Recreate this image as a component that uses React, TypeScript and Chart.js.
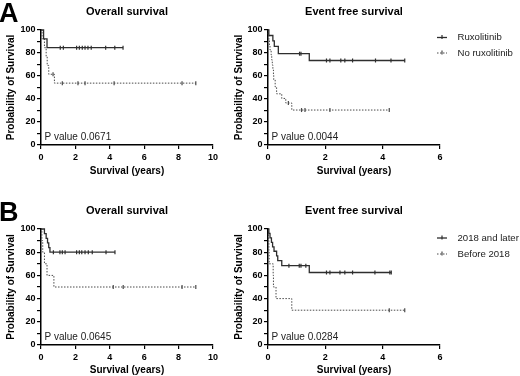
import React, { useEffect, useRef } from 'react';
import { Chart, registerables } from 'chart.js';

Chart.register(...registerables);

const FONT = "'Liberation Sans', Arial, Helvetica, sans-serif";

// ---------- Panel A : Ruxolitinib vs No ruxolitinib ----------
const legendA = ['Ruxolitinib', 'No ruxolitinib'];
const legendB = ['2018 and later', 'Before 2018'];

// A - Overall survival
const aOsRuxTimes = [0.15, 0.35];
const aOsRuxSurv = [92.3, 84.6];
const aOsRuxCensor = [1.12, 1.3, 2.07, 2.23, 2.4, 2.56, 2.73, 2.92, 3.76, 4.29, 4.77];
const aOsNoTimes = [0.06, 0.2, 0.3, 0.36, 0.45, 0.78];
const aOsNoSurv = [92.3, 84.6, 76.9, 69.2, 61.5, 53.8];
const aOsNoCensor = [0.7, 1.24, 2.15, 2.56, 4.25, 8.2, 9.0];

// A - Event free survival
const aEfsRuxTimes = [0.03, 0.17, 0.22, 0.36, 1.44];
const aEfsRuxSurv = [95.2, 90.5, 85.7, 79.4, 73.5];
const aEfsRuxCensor = [1.1, 1.15, 2.04, 2.16, 2.54, 2.68, 2.95, 3.75, 4.29, 4.77];
const aEfsNoTimes = [0.01, 0.03, 0.05, 0.07, 0.11, 0.13, 0.15, 0.17, 0.19, 0.2, 0.25, 0.3, 0.48, 0.62, 0.83];
const aEfsNoSurv = [95.7, 91.3, 87.0, 82.6, 78.3, 73.9, 69.6, 65.2, 60.9, 56.5, 50.5, 44.5, 40.5, 36.5, 30.4];
const aEfsNoCensor = [0.71, 1.17, 1.29, 2.16, 4.23];

// ---------- Panel B : 2018 and later vs Before 2018 ----------
// B - Overall survival
const bOsLateTimes = [0.2, 0.3, 0.38, 0.45, 0.52];
const bOsLateSurv = [96, 92, 88, 84, 80];
const bOsLateCensor = [0.72, 1.1, 1.24, 1.4, 2.07, 2.23, 2.37, 2.56, 2.75, 2.98, 3.78, 4.3];
const bOsEarlyTimes = [0.05, 0.1, 0.2, 0.35, 0.75];
const bOsEarlySurv = [90, 80, 70, 60, 50];
const bOsEarlyCensor = [4.2, 4.78, 8.2, 9.0];

// B - Event free survival
const bEfsLateTimes = [0.03, 0.07, 0.12, 0.16, 0.21, 0.3, 0.34, 0.48, 1.44];
const bEfsLateSurv = [96.2, 92.3, 88.5, 84.6, 80.8, 76.9, 72.7, 68.4, 62.5];
const bEfsLateCensor = [0.73, 1.09, 1.15, 1.32, 2.04, 2.16, 2.51, 2.68, 2.95, 3.73, 4.25, 4.3];
const bEfsEarlyTimes = [0.02, 0.03, 0.04, 0.18, 0.19, 0.28, 0.83];
const bEfsEarlySurv = [90, 80, 70, 60, 50, 40, 30];
const bEfsEarlyCensor = [4.23, 4.77];

const yTicks = [0, 20, 40, 60, 80, 100];

type Series = { times: number[]; surv: number[]; censor: number[] };

function curve(s: Series) {
  const pts = [{ x: 0, y: 100 }];
  s.times.forEach((t, i) => pts.push({ x: t, y: s.surv[i] }));
  const end = Math.max(...s.censor, s.times[s.times.length - 1]);
  pts.push({ x: end, y: s.surv[s.surv.length - 1] });
  return pts;
}

function survAt(s: Series, t: number) {
  let v = 100;
  s.times.forEach((tt, i) => {
    if (tt <= t) v = s.surv[i];
  });
  return v;
}

const SOLID = '#2e2e2e';
const DOTTED = '#4a4a4a';

type Spec = {
  left: number; top: number; w: number; h: number;
  area: { left: number; top: number; right: number; bottom: number };
  yTitleX: number; xTitleY: number;
  xMax: number; title: string; pValue: string;
  letter?: string; legend?: string[]; legendY?: number[];
  solid: Series; dotted: Series;
};

const specs: Spec[] = [
  {
    left: 0, top: 0, w: 230, h: 185,
    area: { left: 41, top: 30, right: 213, bottom: 145 },
    yTitleX: 11.7, xTitleY: 171, xMax: 10,
    title: 'Overall survival', pValue: 'P value 0.0671', letter: 'A',
    solid: { times: aOsRuxTimes, surv: aOsRuxSurv, censor: aOsRuxCensor },
    dotted: { times: aOsNoTimes, surv: aOsNoSurv, censor: aOsNoCensor },
  },
  {
    left: 230, top: 0, w: 290, h: 185,
    area: { left: 38, top: 30, right: 210, bottom: 145 },
    yTitleX: 8.8, xTitleY: 171, xMax: 6,
    title: 'Event free survival', pValue: 'P value 0.0044',
    legend: legendA, legendY: [37.5, 53],
    solid: { times: aEfsRuxTimes, surv: aEfsRuxSurv, censor: aEfsRuxCensor },
    dotted: { times: aEfsNoTimes, surv: aEfsNoSurv, censor: aEfsNoCensor },
  },
  {
    left: 0, top: 199, w: 230, h: 177,
    area: { left: 41, top: 30, right: 213, bottom: 146 },
    yTitleX: 11.7, xTitleY: 171, xMax: 10,
    title: 'Overall survival', pValue: 'P value 0.0645', letter: 'B',
    solid: { times: bOsLateTimes, surv: bOsLateSurv, censor: bOsLateCensor },
    dotted: { times: bOsEarlyTimes, surv: bOsEarlySurv, censor: bOsEarlyCensor },
  },
  {
    left: 230, top: 199, w: 290, h: 177,
    area: { left: 38, top: 30, right: 210, bottom: 146 },
    yTitleX: 8.8, xTitleY: 171, xMax: 6,
    title: 'Event free survival', pValue: 'P value 0.0284',
    legend: legendB, legendY: [39, 55],
    solid: { times: bEfsLateTimes, surv: bEfsLateSurv, censor: bEfsLateCensor },
    dotted: { times: bEfsEarlyTimes, surv: bEfsEarlySurv, censor: bEfsEarlyCensor },
  },
];

function Panel({ spec }: { spec: Spec }) {
  const ref = useRef<HTMLCanvasElement>(null);
  useEffect(() => {
    const canvas = ref.current!;
    const s = spec;
    const overlay = {
      id: 'overlay',
      afterDraw(chart: any) {
        const { ctx, chartArea } = chart;
        ctx.save();
        ctx.fillStyle = '#000';
        if (s.letter) {
          ctx.font = `bold 27px ${FONT}`;
          ctx.textAlign = 'left';
          ctx.textBaseline = 'alphabetic';
          ctx.fillText(s.letter, -1, 22);
        }
        ctx.font = `bold 11px ${FONT}`;
        ctx.textAlign = 'center';
        ctx.textBaseline = 'middle';
        ctx.fillText(s.title, (chartArea.left + chartArea.right) / 2, 11.5);
        ctx.font = `10px ${FONT}`;
        ctx.textAlign = 'left';
        ctx.fillStyle = '#222';
        ctx.fillText(s.pValue, chartArea.left + 3.5, chartArea.bottom - 8);
        if (s.legend && s.legendY) {
          s.legend.forEach((lab, i) => {
            const y = s.legendY![i];
            ctx.strokeStyle = i === 0 ? SOLID : DOTTED;
            ctx.lineWidth = i === 0 ? 1.3 : 1;
            ctx.setLineDash(i === 0 ? [] : [1.5, 1.5]);
            ctx.beginPath();
            ctx.moveTo(207, y);
            ctx.lineTo(217, y);
            ctx.stroke();
            ctx.setLineDash([]);
            ctx.lineWidth = 1.2;
            ctx.beginPath();
            ctx.moveTo(212, y - 2.5);
            ctx.lineTo(212, y + 1.5);
            ctx.stroke();
            ctx.fillStyle = '#222';
            ctx.font = `9.6px ${FONT}`;
            ctx.textAlign = 'left';
            ctx.textBaseline = 'middle';
            ctx.fillText(lab, 227.5, y);
          });
        }
        ctx.restore();
      },
    };

    const mkLine = (ser: Series, color: string, dashed: boolean) => ({
      type: 'line',
      data: curve(ser),
      borderColor: color,
      borderWidth: dashed ? 1 : 1.3,
      borderDash: dashed ? [1.5, 1.5] : [],
      stepped: 'before',
      pointRadius: 0,
      fill: false,
      clip: false,
    });
    const mkCensor = (ser: Series, color: string) => ({
      type: 'line',
      data: ser.censor.map((t) => ({ x: t, y: survAt(ser, t) })),
      showLine: false,
      pointStyle: 'line',
      pointRotation: 90,
      pointRadius: 2,
      pointBorderWidth: 1.2,
      pointBorderColor: color,
      pointBackgroundColor: color,
      clip: false,
    });

    const tickFont = { family: FONT, size: 9, weight: 'bold' as const };
    const titleFont = { family: FONT, size: 10, weight: 'bold' as const };

    const chart = new Chart(canvas, {
      type: 'line',
      data: {
        datasets: [
          mkLine(s.solid, SOLID, false),
          mkLine(s.dotted, DOTTED, true),
          mkCensor(s.solid, SOLID),
          mkCensor(s.dotted, DOTTED),
        ] as any,
      },
      options: {
        responsive: false,
        animation: false,
        events: [],
        layout: {
          padding: { left: 0, top: s.area.top, right: s.w - s.area.right, bottom: 0 },
        },
        plugins: {
          legend: { display: false },
          tooltip: { enabled: false },
          title: { display: false },
        },
        scales: {
          x: {
            type: 'linear',
            min: 0,
            max: s.xMax,
            afterFit: (sc: any) => { sc.height = s.h - s.area.bottom; },
            ticks: { stepSize: 2, autoSkip: false, maxRotation: 0, padding: 3, color: '#000', font: tickFont },
            grid: { display: true, drawOnChartArea: false, drawTicks: true, tickLength: 4, color: '#000', lineWidth: 1.2 },
            border: { display: true, color: '#000', width: 1.5 },
            title: {
              display: true, text: 'Survival (years)', color: '#000', font: titleFont,
              padding: { top: 0, bottom: s.h - s.xTitleY - 6 },
            },
          },
          y: {
            type: 'linear',
            min: 0,
            max: 100,
            afterFit: (sc: any) => { sc.width = s.area.left; },
            ticks: {
              stepSize: 10, autoSkip: false, padding: 1.5, color: '#000', font: tickFont,
              callback: (v: any) => (yTicks.includes(Number(v)) ? String(v) : ''),
            },
            grid: { display: true, drawOnChartArea: false, drawTicks: true, tickLength: 4, color: '#000', lineWidth: 1.2 },
            border: { display: true, color: '#000', width: 1.5 },
            title: {
              display: true, text: 'Probability of Survival', color: '#000', font: titleFont,
              padding: { top: s.yTitleX - 6, bottom: 0 },
            },
          },
        },
      } as any,
      plugins: [overlay],
    });
    return () => chart.destroy();
  }, [spec]);
  return (
    <canvas
      ref={ref}
      width={spec.w}
      height={spec.h}
      style={{ position: 'absolute', left: spec.left, top: spec.top, width: spec.w, height: spec.h }}
    />
  );
}

export default function App() {
  return (
    <div style={{ position: 'fixed', left: 0, top: 0, width: 520, height: 376, background: '#fff', overflow: 'hidden' }}>
      {specs.map((sp, i) => (
        <Panel key={i} spec={sp} />
      ))}
    </div>
  );
}
